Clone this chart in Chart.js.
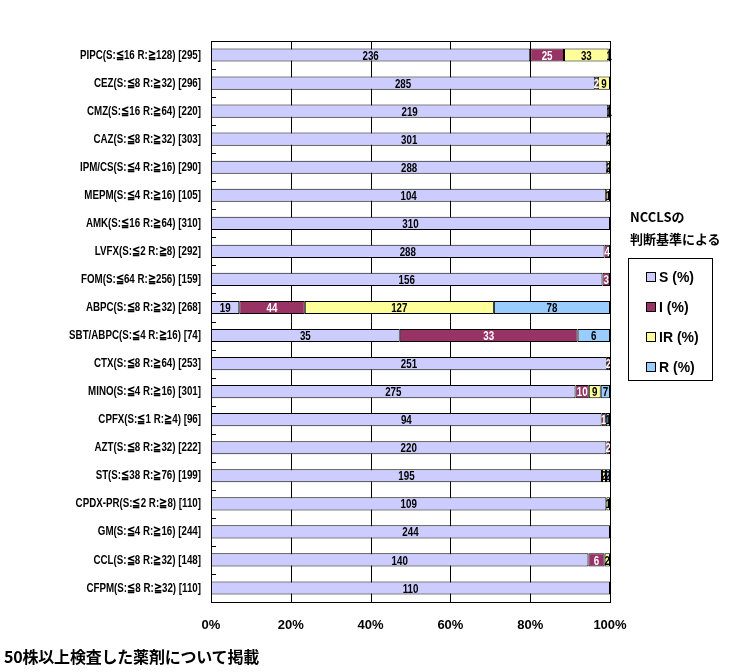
<!DOCTYPE html>
<html><head><meta charset="utf-8">
<script src="https://cdn.jsdelivr.net/npm/chart.js@4.4.0/dist/chart.umd.min.js"></script>
<style>
html,body{margin:0;padding:0;background:#fff;}
#wrap{position:relative;width:738px;height:672px;}
canvas{position:absolute;left:0;top:0;}
.t{position:absolute;font-family:"Noto Sans CJK JP","Liberation Sans",sans-serif;font-weight:bold;color:#000;white-space:nowrap;}
#lbox{position:absolute;left:628px;top:258px;width:83px;height:121px;border:1px solid #000;}
.it{position:absolute;left:17px;font-family:"Liberation Sans",sans-serif;font-weight:bold;font-size:14px;line-height:14px;}
.sq{display:inline-block;width:8px;height:8px;border:1px solid #000;margin-right:3px;vertical-align:0px;}
</style></head>
<body><div id="wrap">
<canvas id="c" width="738" height="672"></canvas>
<div class="t" style="left:630px;top:209px;font-size:13px;line-height:16px;">NCCLSの</div>
<div class="t" style="left:630px;top:231px;font-size:13px;line-height:16px;">判断基準による</div>
<div id="lbox">
 <div class="it" style="top:11px"><span class="sq" style="background:#CCCCFF"></span>S (%)</div>
 <div class="it" style="top:41px"><span class="sq" style="background:#993366"></span>I (%)</div>
 <div class="it" style="top:71px"><span class="sq" style="background:#FFFF99"></span>IR (%)</div>
 <div class="it" style="top:101px"><span class="sq" style="background:#99CCFF"></span>R (%)</div>
</div>
<div class="t" style="left:4px;top:647px;font-size:16px;line-height:18px;letter-spacing:-0.2px;">50株以上検査した薬剤について掲載</div>
</div>
<script>
const categories = [
 "PIPC(S:≦16 R:≧128) [295]","CEZ(S:≦8 R:≧32) [296]","CMZ(S:≦16 R:≧64) [220]","CAZ(S:≦8 R:≧32) [303]",
 "IPM/CS(S:≦4 R:≧16) [290]","MEPM(S:≦4 R:≧16) [105]","AMK(S:≦16 R:≧64) [310]","LVFX(S:≦2 R:≧8) [292]",
 "FOM(S:≦64 R:≧256) [159]","ABPC(S:≦8 R:≧32) [268]","SBT/ABPC(S:≦4 R:≧16) [74]","CTX(S:≦8 R:≧64) [253]",
 "MINO(S:≦4 R:≧16) [301]","CPFX(S:≦1 R:≧4) [96]","AZT(S:≦8 R:≧32) [222]","ST(S:≦38 R:≧76) [199]",
 "CPDX-PR(S:≦2 R:≧8) [110]","GM(S:≦4 R:≧16) [244]","CCL(S:≦8 R:≧32) [148]","CFPM(S:≦8 R:≧32) [110]"
];
const sCounts  = [236,285,219,301,288,104,310,288,156,19,35,251,275,94,220,195,109,244,140,110];
const iCounts  = [25,2,0,0,0,0,0,4,3,44,33,2,10,1,2,0,0,0,6,0];
const irCounts = [33,9,1,2,2,1,0,0,0,127,0,0,9,0,0,2,1,0,2,0];
const rCounts  = [1,0,0,0,0,0,0,0,0,78,6,0,7,1,0,2,0,0,0,0];
const xTickLabels = ["0%","20%","40%","60%","80%","100%"];

const totals = categories.map((_, i) => sCounts[i] + iCounts[i] + irCounts[i] + rCounts[i]);
const pct = arr => arr.map((v, i) => v / totals[i] * 100);

const series = [
 {label:"S (%)", counts:sCounts, color:"#CCCCFF", text:"#000"},
 {label:"I (%)", counts:iCounts, color:"#993366", text:"#fff"},
 {label:"IR (%)", counts:irCounts, color:"#FFFF99", text:"#000"},
 {label:"R (%)", counts:rCounts, color:"#99CCFF", text:"#000"}
];

const FONT = "'Liberation Sans',Arial,sans-serif";
const SQUEEZE = 0.75;

const deco = {
 id:'deco',
 beforeDraw(chart){
  const ys = chart.scales.y;
  if (!ys._squeezed) {
   const orig = ys.drawLabels;
   ys.drawLabels = function(area){
    const ctx = this.ctx, cx = this.right - this.options.ticks.padding;
    ctx.save();
    ctx.translate(cx, 0); ctx.scale(SQUEEZE, 1); ctx.translate(-cx, 0);
    orig.call(this, area);
    ctx.restore();
   };
   ys._squeezed = true;
  }
 },
 beforeDatasetsDraw(chart){
  const ctx = chart.ctx, a = chart.chartArea, xs = chart.scales.x;
  ctx.save();
  ctx.strokeStyle = "#000"; ctx.lineWidth = 1;
  ctx.beginPath();
  xs.ticks.forEach(t => {
   const px = Math.round(xs.getPixelForValue(t.value)) + 0.5;
   ctx.moveTo(px, a.top); ctx.lineTo(px, a.bottom);
  });
  ctx.stroke();
  ctx.restore();
 },
 afterDatasetsDraw(chart){
  const ctx = chart.ctx, a = chart.chartArea, y = chart.scales.y;
  ctx.save();
  ctx.font = "bold 13px " + FONT;
  ctx.textAlign = "center"; ctx.textBaseline = "middle";
  chart.data.datasets.forEach((ds, di) => {
   const meta = chart.getDatasetMeta(di);
   meta.data.forEach((el, i) => {
    const c = series[di].counts[i];
    if (!c) return;
    const p = el.getProps(['x','y','base'], true);
    ctx.save();
    ctx.translate((p.x + p.base) / 2, p.y + 1);
    ctx.scale(SQUEEZE, 1);
    ctx.fillStyle = series[di].text;
    ctx.fillText(String(c), 0, 0);
    ctx.restore();
   });
  });
  ctx.strokeStyle = "#000"; ctx.lineWidth = 1;
  ctx.strokeRect(Math.round(a.left)+0.5, Math.round(a.top)+0.5, Math.round(a.right-a.left), Math.round(a.bottom-a.top));
  ctx.beginPath();
  for (let i = 1; i < categories.length; i++) {
   const py = Math.round((y.getPixelForValue(i-1) + y.getPixelForValue(i)) / 2) + 0.5;
   ctx.moveTo(a.left, py); ctx.lineTo(a.left + 5, py);
  }
  ctx.stroke();
  ctx.restore();
 }
};

new Chart(document.getElementById('c'), {
 type:'bar',
 data:{
  labels:categories,
  datasets:series.map(s => ({
   label:s.label, data:pct(s.counts), backgroundColor:s.color,
   borderColor:"#000", borderWidth:1, borderSkipped:false,
   barPercentage:0.47, categoryPercentage:1.0
  }))
 },
 options:{
  indexAxis:'y', responsive:false, animation:false,
  layout:{padding:{left:0, right:128, top:41, bottom:0}},
  plugins:{legend:{display:false}, tooltip:{enabled:false}},
  scales:{
   x:{
    stacked:true, min:0, max:100,
    ticks:{stepSize:20, color:"#000", padding:16, font:{family:FONT, weight:'bold', size:13},
      callback:(v, i) => xTickLabels[i]},
    grid:{display:false, drawTicks:false},
    border:{color:"#000"},
    afterFit:s => { s.height = 70; }
   },
   y:{
    stacked:true,
    ticks:{color:"#000", padding:10, font:{family:FONT, weight:'bold', size:13}},
    grid:{display:false, drawTicks:false},
    border:{color:"#000"},
    afterFit:s => { s.width = 211; }
   }
  }
 },
 plugins:[deco]
});
</script>
</body></html>
